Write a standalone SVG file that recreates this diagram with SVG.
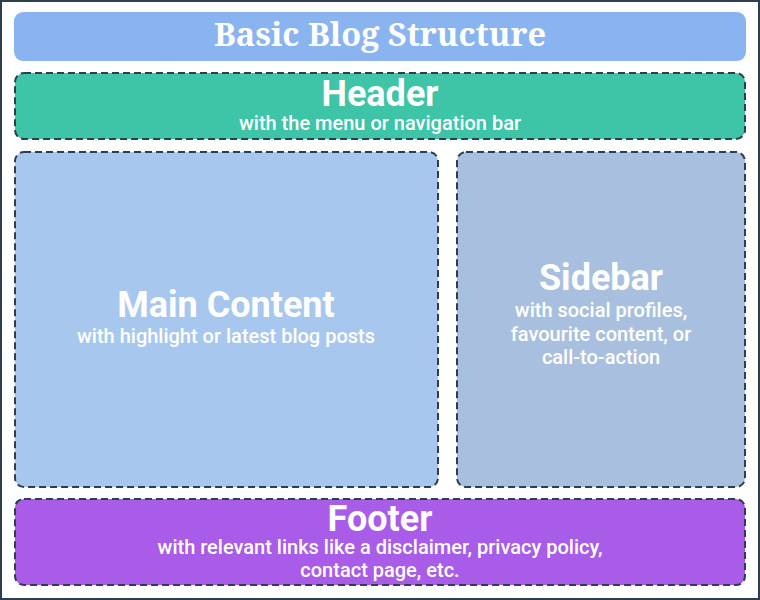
<svg xmlns="http://www.w3.org/2000/svg" width="760" height="600" viewBox="0 0 760 600">
<style>
.box{stroke:#2c3e50;stroke-width:2;stroke-dasharray:7 4}
.h{font-family:Roboto,"Liberation Sans",sans-serif;font-weight:700;font-size:36px;fill:#fff;text-anchor:middle}
.s{font-family:Roboto,"Liberation Sans",sans-serif;font-weight:500;font-size:20px;fill:#fff;text-anchor:middle}
.t{font-family:"Noto Serif","DejaVu Serif","Liberation Serif",serif;font-weight:700;font-size:32.5px;fill:#fff;text-anchor:middle}
</style>
<rect x="0" y="0" width="760" height="600" fill="#fff"/>
<rect x="1" y="1" width="758" height="598" fill="none" stroke="#2c3e50" stroke-width="2"/>
<g id="title">
<rect x="14" y="12" width="732" height="49" rx="9" fill="#8ab4f0"/>
<text class="t" x="380" y="46">Basic Blog Structure</text>
</g>
<g id="header">
<rect class="box" x="15" y="73" width="730" height="66" rx="9" fill="#3ec4a6"/>
<text class="h" x="380" y="106">Header</text>
<text class="s" x="380" y="130">with the menu or navigation bar</text>
</g>
<g id="main">
<rect class="box" x="15" y="152" width="423" height="335" rx="9" fill="#a8c7ef"/>
<text class="h" x="226" y="317">Main Content</text>
<text class="s" x="226" y="343">with highlight or latest blog posts</text>
</g>
<g id="sidebar">
<rect class="box" x="457" y="152" width="288" height="335" rx="9" fill="#a9bfdf"/>
<text class="h" x="601" y="290">Sidebar</text>
<text class="s" x="601" y="317">with social profiles,</text>
<text class="s" x="601" y="341">favourite content, or</text>
<text class="s" x="601" y="364">call-to-action</text>
</g>
<g id="footer">
<rect class="box" x="15" y="499" width="730" height="86" rx="9" fill="#a95ce8"/>
<text class="h" x="380" y="531">Footer</text>
<text class="s" x="380" y="554">with relevant links like a disclaimer, privacy policy,</text>
<text class="s" x="380" y="577">contact page, etc.</text>
</g>
<g id="connectors"></g>
</svg>
